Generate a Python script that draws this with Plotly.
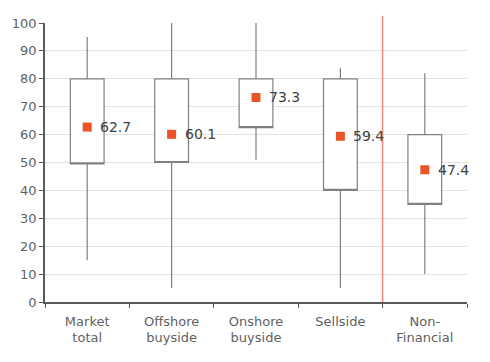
import plotly.graph_objects as go

categories = ["Market<br>total", "Offshore<br>buyside", "Onshore<br>buyside", "Sellside", "Non-<br>Financial"]
mins = [15, 5, 51, 5, 10]
q1s = [49.5, 50, 62.5, 40, 35]
q3s = [80, 80, 80, 80, 60]
maxs = [95, 100, 100, 84, 82]
means = [62.7, 60.1, 73.3, 59.4, 47.4]
y_ticks = list(range(0, 101, 10))

grey = "#5f5f5f"
fig = go.Figure()
fig.add_trace(go.Box(
    x=categories, q1=q1s, median=q1s, q3=q3s, lowerfence=mins, upperfence=maxs,
    fillcolor="white", line=dict(color="#808080", width=1.2), whiskerwidth=0,
    width=0.4, boxpoints=False, hoverinfo="skip", showlegend=False,
))
fig.add_trace(go.Scatter(
    x=categories, y=means, mode="markers",
    marker=dict(symbol="square", size=9, color="#EA5428"),
    hoverinfo="skip", showlegend=False,
))
for c, m in zip(categories, means):
    fig.add_annotation(x=c, y=m, text=f"{m:.1f}", showarrow=False, xanchor="left",
                       xshift=11, font=dict(size=14, color="#404040"))
fig.add_shape(type="line", xref="x", yref="paper", x0=3.5, x1=3.5, y0=0, y1=1.026,
              line=dict(color="#EC8C78", width=1.5))
fig.update_layout(
    width=474, height=346, plot_bgcolor="white", paper_bgcolor="white",
    margin=dict(l=37, r=15, t=15, b=52, autoexpand=False),
    font=dict(family="DejaVu Sans, sans-serif", size=13, color=grey),
    xaxis=dict(range=[-0.5, 4.5], showline=True, linecolor="#595959", linewidth=1.8,
               ticks="outside", tickson="boundaries", ticklen=4, tickcolor="#595959",
               showgrid=False, tickfont=dict(size=13, color=grey), ticklabelstandoff=6,
               automargin=False),
    yaxis=dict(range=[0, 100], tickvals=y_ticks, showline=True, linecolor="#595959",
               linewidth=1.8, ticks="outside", ticklen=4, tickcolor="#595959",
               gridcolor="#e3e3e3", gridwidth=1, zeroline=False,
               tickfont=dict(size=13, color=grey), automargin=False),
)
fig.write_html("out.html")
